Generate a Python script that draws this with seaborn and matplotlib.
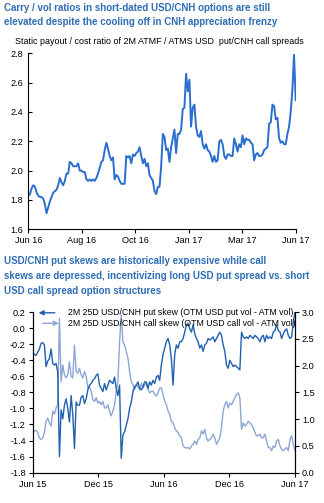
import numpy as np
import pandas as pd
import matplotlib
matplotlib.use("Agg")
import matplotlib.pyplot as plt
import seaborn as sns
from matplotlib import font_manager

# ---------------- data ----------------
payout_ratio = [
    1.83, 1.84, 1.88, 1.90, 1.89, 1.85, 1.83, 1.82, 1.82, 1.81, 1.77, 1.71, 1.75, 1.79, 1.82, 1.85,
    1.86, 1.87, 1.90, 1.95, 1.92, 1.90, 1.93, 1.98, 1.98, 2.06, 2.05, 2.03, 2.03, 2.03, 2.05, 2.00,
    2.00, 1.99, 1.99, 1.94, 1.93, 1.94, 1.93, 1.94, 1.93, 1.95, 1.98, 2.02, 2.06, 2.07, 2.14, 2.19,
    2.15, 2.10, 2.07, 2.09, 1.94, 1.97, 1.96, 1.93, 1.91, 1.91, 1.91, 2.10, 2.09, 2.10, 2.05, 2.11,
    2.10, 2.12, 2.13, 2.16, 2.10, 2.05, 2.08, 2.03, 2.05, 1.97, 1.95, 1.93, 1.86, 1.84, 1.89, 1.89,
    2.03, 2.25, 2.23, 2.14, 2.15, 2.06, 2.16, 2.22, 2.28, 2.12, 2.25, 2.25, 2.28, 2.42, 2.43, 2.66,
    2.54, 2.62, 2.30, 2.43, 2.45, 2.30, 2.24, 2.23, 2.27, 2.18, 2.15, 2.18, 2.14, 2.13, 2.10, 2.06,
    2.10, 2.06, 2.07, 2.20, 2.21, 2.18, 2.10, 2.08, 2.11, 2.11, 2.10, 2.10, 2.22, 2.18, 2.13, 2.18,
    2.16, 2.24, 2.18, 2.22, 2.21, 2.21, 2.19, 2.18, 2.07, 2.11, 2.12, 2.10, 2.10, 2.11, 2.14, 2.15,
    2.16, 2.32, 2.33, 2.45, 2.44, 2.35, 2.36, 2.22, 2.19, 2.20, 2.18, 2.18, 2.25, 2.30, 2.40, 2.55,
    2.79, 2.48,
]
top_ticklabels = ["Jun 16", "Aug 16", "Oct 16", "Jan 17", "Mar 17", "Jun 17"]

put_skew = [
    -0.30, -0.33, -0.34, -0.30, -0.26, -0.19, -0.18, -0.21, -0.48, -0.41, -0.38, -0.26, -0.44, -0.46,
    -0.44, -0.55, -1.60, -1.02, -1.13, -0.96, -0.88, -1.00, -1.17, -0.84, -1.08, -1.50, -0.92, -0.96,
    -0.96, -0.86, -0.84, -0.94, -0.88, -0.77, -0.71, -0.69, -0.65, -0.63, -0.59, -0.57, -0.71, -0.75,
    -0.79, -0.69, -0.77, -0.71, -0.65, -0.67, -0.69, -0.61, -0.75, -0.84, -0.71, -1.62, -1.33, -1.29,
    -1.21, -1.13, -1.00, -0.92, -0.79, -0.73, -0.71, -0.67, -0.75, -0.77, -0.73, -0.67, -0.67, -0.75,
    -0.67, -0.71, -0.65, -0.69, -0.61, -0.59, -0.65,
    -0.46, -0.33, -0.25, -0.17, -0.13, -0.21, -0.38, -0.71, -0.33, -0.21, -0.25, -0.17, -0.17, -0.13,
    -0.05, 0.04, 0.06, -0.01, -0.05, 0.04, -0.07, -0.13, -0.17, -0.25, -0.21, -0.29, -0.21, -0.19,
    -0.13, -0.15, -0.13, -0.11, -0.17, -0.13, -0.09, -0.05, -0.09, -0.21, -0.29, -0.46, -0.50, -0.40,
    -0.44, -0.48, -0.46, -0.48, -0.50, -0.52, -0.05, -0.11, -0.13, -0.11, -0.13, -0.09, -0.11, -0.13,
    -0.09, -0.11, -0.13, -0.17, -0.11, -0.09, -0.17, -0.09, -0.13, -0.11, -0.13, -0.05, -0.03, 0.04,
    -0.03, -0.05, -0.13, -0.07, -0.03, -0.01, -0.09, -0.13, -0.11, 0.08, 0.20,
]
call_skew = [
    0.75, 0.78, 0.79, 0.75, 0.65, 0.62, 0.65, 0.75, 0.96, 1.02, 0.93, 0.87, 1.15, 1.09, 1.21, 1.27,
    2.88, 1.70, 2.01, 1.83, 1.77, 1.83, 2.07, 1.80, 1.77, 2.38, 1.89, 1.86, 1.95, 1.83, 1.77, 1.89,
    1.80, 1.58, 1.61, 1.52, 1.36, 1.33, 1.40, 1.30, 1.33, 1.27, 1.33, 1.21, 1.21, 1.27, 1.15, 1.06,
    1.15, 1.27, 1.52, 1.70, 2.44, 2.94, 2.44, 2.38, 2.26, 2.14, 1.89, 1.70, 1.64, 1.55, 1.64, 1.61,
    1.55, 1.67, 1.58, 1.64, 1.67, 1.55, 1.49, 1.52, 1.52, 1.46, 1.43, 1.49, 1.58,
    1.58, 1.46, 1.33, 1.27, 1.15, 1.09, 0.96, 0.93, 0.84, 0.78, 0.75, 0.69, 0.65, 0.50, 0.47, 0.46,
    0.47, 0.44, 0.50, 0.53, 0.59, 0.53, 0.62, 0.65, 0.78, 0.72, 0.81, 0.65, 0.59, 0.62, 0.65, 0.72,
    0.65, 0.53, 0.59, 0.65, 0.84, 1.15, 1.27, 1.33, 1.21, 1.30, 1.27, 1.33, 1.40, 1.46, 1.49, 1.40,
    0.81, 0.93, 0.87, 0.90, 0.96, 0.93, 0.90, 0.84, 0.75, 0.69, 0.69, 0.72, 0.65, 0.65, 0.72, 0.59,
    0.47, 0.47, 0.41, 0.50, 0.47, 0.59, 0.62, 0.50, 0.44, 0.41, 0.44, 0.47, 0.41, 0.62, 0.69, 0.53,
    0.41,
]
bottom_ticklabels = ["Jun 15", "Dec 15", "Jun 16", "Dec 16", "Jun 17"]

title1 = ["Carry / vol ratios in short-dated USD/CNH options are still",
          "elevated despite the cooling off in CNH appreciation frenzy"]
subtitle1 = "Static payout / cost ratio of 2M ATMF / ATMS USD  put/CNH call spreads"
title2 = ["USD/CNH put skews are historically expensive while call",
          "skews are depressed, incentivizing long USD put spread vs. short",
          "USD call spread option structures"]
legend_labels = ["2M 25D USD/CNH put skew (OTM USD put vol - ATM vol)",
                 "2M 25D USD/CNH call skew (OTM USD call vol - ATM vol)"]

# ---------------- style ----------------
sns.set_style("ticks")
names = {f.name for f in font_manager.fontManager.ttflist}
narrow = "Liberation Sans Narrow" if "Liberation Sans Narrow" in names else "Liberation Sans"
plt.rcParams["font.family"] = [narrow, "DejaVu Sans"]

TITLE_BLUE = "#2F6DB5"
TOP_LINE = "#2A6ED0"
PUT_C = "#2060B0"
CALL_C = "#8DA6D4"
TICK_FS = 6.6
TITLE_FS = 7.05
SUB_FS = 6.4
LEG_FS = 6.3

W, H = 324, 503
fig = plt.figure(figsize=(W / 100, H / 100), dpi=100)

def frac_box(l, t, r, b):
    return [l / W, 1 - b / H, (r - l) / W, (b - t) / H]

# ---------------- top chart ----------------
ax1 = fig.add_axes(frac_box(28.3, 53.3, 295.7, 229.3))
df1 = pd.DataFrame({"i": np.arange(len(payout_ratio)), "v": payout_ratio})
sns.lineplot(data=df1, x="i", y="v", ax=ax1, color=TOP_LINE, linewidth=1.4)
ax1.set_xlim(0, len(payout_ratio) - 1)
ax1.set_ylim(1.6, 2.8)
yt1 = np.round(np.arange(1.6, 2.81, 0.2), 1)
ax1.set_yticks(yt1)
ax1.set_yticklabels([f"{v:.1f}" for v in yt1])
ax1.set_xticks(np.linspace(0, len(payout_ratio) - 1, len(top_ticklabels)))
ax1.set_xticklabels(top_ticklabels)
ax1.set_xlabel("")
ax1.set_ylabel("")
for s in ["top", "right"]:
    ax1.spines[s].set_visible(False)
for s in ["left", "bottom"]:
    ax1.spines[s].set_color("black")
    ax1.spines[s].set_linewidth(0.8)
ax1.tick_params(axis="y", direction="in", length=3, width=0.8, labelsize=TICK_FS, pad=4, colors="black")
ax1.tick_params(axis="x", direction="out", length=3, width=0.8, labelsize=TICK_FS, pad=2, colors="black")

# ---------------- bottom chart ----------------
ax2 = fig.add_axes(frac_box(32.7, 312, 295, 472.7))
ax3 = ax2.twinx()
n2 = len(put_skew)
df2 = pd.DataFrame({"i": np.arange(n2), "put": put_skew, "call": call_skew})
sns.lineplot(data=df2, x="i", y="call", ax=ax3, color=CALL_C, linewidth=1.0)
sns.lineplot(data=df2, x="i", y="put", ax=ax2, color=PUT_C, linewidth=1.0)
ax2.set_zorder(ax3.get_zorder() + 1)
ax2.patch.set_visible(False)
ax2.set_xlim(0, n2 - 1)
ax2.set_ylim(-1.8, 0.2)
ax3.set_ylim(0.0, 3.0)
lt = np.round(np.arange(-1.8, 0.21, 0.2), 1)
ax2.set_yticks(lt)
ax2.set_yticklabels([f"{v:.1f}" if abs(v) > 1e-9 else "0.0" for v in lt])
rt = np.arange(0.0, 3.01, 0.5)
ax3.set_yticks(rt)
ax3.set_yticklabels([f"{v:.1f}" for v in rt])
ax2.set_xticks(np.linspace(0, n2 - 1, len(bottom_ticklabels)))
ax2.set_xticklabels(bottom_ticklabels)
for a in (ax2, ax3):
    a.set_xlabel("")
    a.set_ylabel("")
    a.spines["top"].set_visible(False)
    for s in ["left", "right", "bottom"]:
        a.spines[s].set_color("black")
        a.spines[s].set_linewidth(0.8)
ax2.tick_params(axis="y", direction="out", length=3, width=0.8, labelsize=TICK_FS, pad=2, colors="black")
ax3.tick_params(axis="y", direction="out", length=3, width=0.8, labelsize=TICK_FS, pad=2, colors="black")
ax2.tick_params(axis="x", direction="out", length=3, width=0.8, labelsize=TICK_FS, pad=2, colors="black")

# legend with axis-indicating arrows
ax2.annotate("", xy=(0.012, 0.995), xytext=(0.095, 0.995), xycoords="axes fraction",
             arrowprops=dict(arrowstyle="-|>", color=PUT_C, lw=1.0, mutation_scale=7))
ax2.annotate("", xy=(0.11, 0.93), xytext=(0.028, 0.93), xycoords="axes fraction",
             arrowprops=dict(arrowstyle="-|>", color=CALL_C, lw=1.0, mutation_scale=7))
ax2.text(0.135, 0.995, legend_labels[0], transform=ax2.transAxes, fontsize=LEG_FS,
         va="center", ha="left", color="black")
ax2.text(0.135, 0.93, legend_labels[1], transform=ax2.transAxes, fontsize=LEG_FS,
         va="center", ha="left", color="black")

# ---------------- titles ----------------
for k, line in enumerate(title1):
    fig.text(4 / W, 1 - (8 + 13.8 * k) / H, line, fontsize=TITLE_FS, fontweight="bold",
             color=TITLE_BLUE, va="center", ha="left")
fig.text(15 / W, 1 - 41.7 / H, subtitle1, fontsize=SUB_FS, color="black", va="center", ha="left")
for k, line in enumerate(title2):
    fig.text(3.5 / W, 1 - (261 + 15 * k) / H, line, fontsize=TITLE_FS, fontweight="bold",
             color=TITLE_BLUE, va="center", ha="left")

fig.savefig("out.png", dpi=100)
